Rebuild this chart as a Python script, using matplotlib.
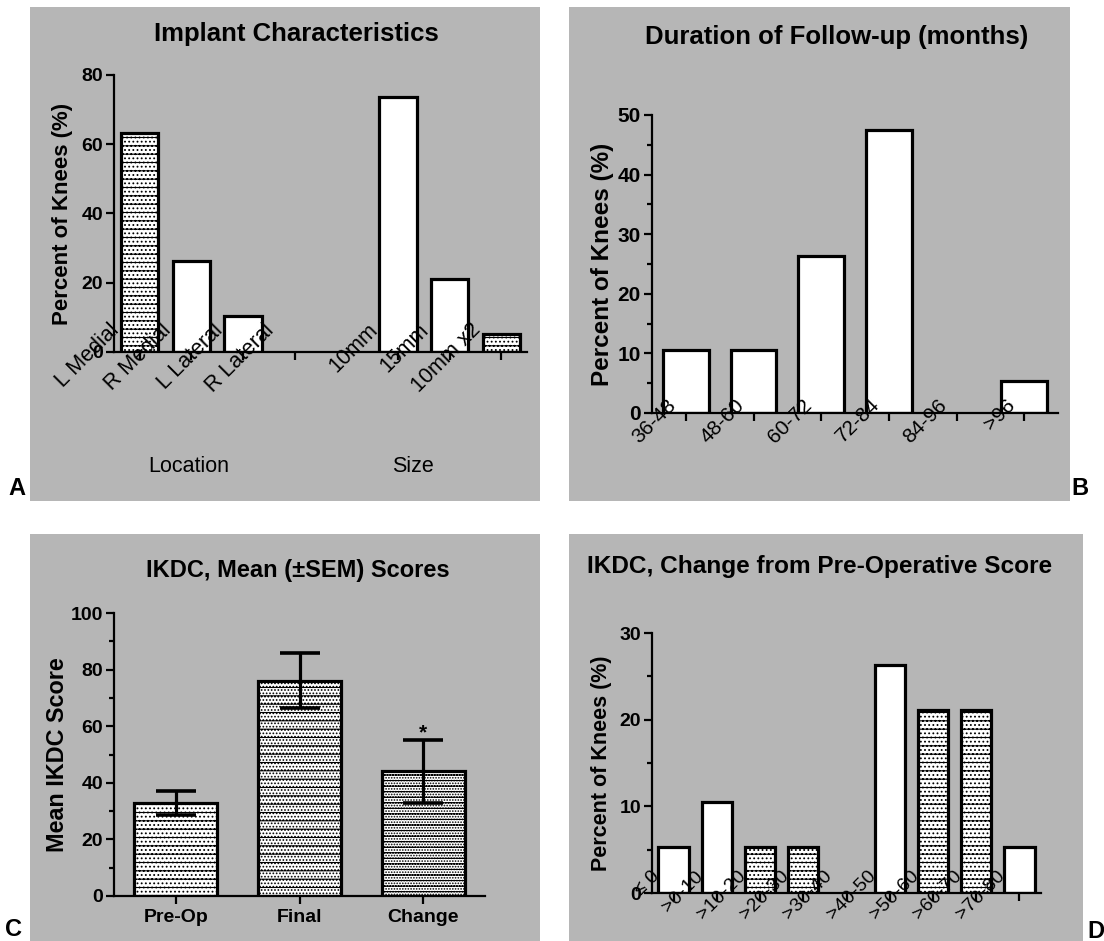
import matplotlib.pyplot as plt
from matplotlib.patches import Rectangle
from matplotlib.transforms import ScaledTranslation
from matplotlib.ticker import MultipleLocator

W, H = 1104, 941
GREY = "#b6b6b6"
plt.rcParams["font.family"] = ["Liberation Sans", "DejaVu Sans"]
plt.rcParams["hatch.linewidth"] = 0.8

# A - implant characteristics (one empty slot between the two groups)
implantLabels = ["L Medial", "R Medial", "L Lateral", "R Lateral", "", "10mm", "15mm", "10mm x2"]
implantPct = [63.2, 26.3, 10.5, 0, 0, 73.7, 21.1, 5.3]

# B - follow-up duration
followLabels = ["36-48", "48-60", "60-72", "72-84", "84-96", ">96"]
followPct = [10.5, 10.5, 26.3, 47.4, 0, 5.3]

# C - IKDC mean scores
ikdcGroups = ["Pre-Op", "Final", "Change"]
ikdcMean = [32.8, 76.1, 44.0]
ikdcSem = [4.3, 9.7, 11.0]

# D - change from pre-op score
changeLabels = ["\u2264 0", ">0-10", ">10-20", ">20-30", ">30-40", ">40-50", ">50-60", ">60-70", ">70-80"]
changePct = [5.3, 10.5, 5.3, 5.3, 0, 26.3, 21.1, 21.1, 5.3]

DOTS = "--...."


def greyPanel(fig, x0, y0, x1, y1):
    fig.add_artist(Rectangle((x0 / W, 1 - y1 / H), (x1 - x0) / W, (y1 - y0) / H,
                             transform=fig.transFigure, facecolor=GREY,
                             edgecolor="none", zorder=-1))


def panelAxes(fig, left, top, right, bottom):
    ax = fig.add_axes([left / W, 1 - bottom / H, (right - left) / W, (bottom - top) / H])
    ax.set_facecolor("none")
    ax.spines["top"].set_visible(False)
    ax.spines["right"].set_visible(False)
    ax.spines["left"].set_linewidth(1.6)
    ax.spines["bottom"].set_linewidth(1.6)
    ax.tick_params(which="major", width=1.6, length=6, color="black")
    ax.tick_params(which="minor", width=1.6, length=3.5, color="black")
    return ax


def boldYticks(ax, size):
    ax.tick_params(axis="y", labelsize=size, pad=2)
    for t in ax.get_yticklabels():
        t.set_fontweight("bold")


def figText(fig, x, y, s, **kw):
    fig.text(x / W, 1 - y / H, s, ha="center", va="center", **kw)


def rotatedLabels(ax, fig, pos, labels, dx, dy, size):
    off = ScaledTranslation(dx / 72, dy / 72, fig.dpi_scale_trans)
    for p, lab in zip(pos, labels):
        ax.text(p, 0, lab, rotation=45, ha="right", va="center", rotation_mode="anchor",
                fontsize=size, transform=ax.get_xaxis_transform() + off, clip_on=False)


def percentBars(ax, values, hatched, width):
    pos = list(range(len(values)))
    for i, v in enumerate(values):
        if v <= 0:
            continue
        ax.bar(i, v, width=width, facecolor="white", edgecolor="black", linewidth=2.3,
               hatch=DOTS if i in hatched else None, zorder=2)
    ax.set_xlim(-0.5, len(values) - 0.5)
    return pos


fig = plt.figure(figsize=(W / 100, H / 100), dpi=100, facecolor="white")

greyPanel(fig, 30, 7, 540, 501)
greyPanel(fig, 569, 7, 1070, 501)
greyPanel(fig, 30, 534, 540, 941)
greyPanel(fig, 569, 534, 1083, 941)

# ---- A
ax = panelAxes(fig, 114, 75, 527, 352)
pos = percentBars(ax, implantPct, [0, 7], 0.72)
ax.set_ylim(0, 80)
ax.set_yticks(range(0, 81, 20))
tickPos = [p for p, lab in zip(pos, implantLabels) if lab]
ax.set_xticks(tickPos, [""] * len(tickPos))
boldYticks(ax, 14)
rotatedLabels(ax, fig, tickPos, [l for l in implantLabels if l], -17, 18, 15.5)
ax.set_ylabel("Percent of Knees (%)", fontsize=16, fontweight="bold", va="center")
ax.yaxis.set_label_coords(-0.124, 0.5)
figText(fig, 296, 34, "Implant Characteristics", fontsize=18.5, fontweight="bold")
figText(fig, 189, 467, "Location", fontsize=15.5)
figText(fig, 413, 467, "Size", fontsize=15.5)

# ---- B
ax = panelAxes(fig, 652, 115, 1058, 413)
pos = percentBars(ax, followPct, [], 0.67)
ax.set_ylim(0, 50)
ax.yaxis.set_major_locator(MultipleLocator(10))
ax.yaxis.set_minor_locator(MultipleLocator(5))
ax.set_xticks(pos, [""] * len(pos))
boldYticks(ax, 15)
rotatedLabels(ax, fig, pos, followLabels, -9, 8, 15)
ax.set_ylabel("Percent of Knees (%)", fontsize=17.5, fontweight="bold", va="center")
ax.yaxis.set_label_coords(-0.122, 0.5)
figText(fig, 837, 37, "Duration of Follow-up (months)", fontsize=18.5, fontweight="bold")

# ---- C
ax = panelAxes(fig, 114, 613, 485, 896)
pos = list(range(len(ikdcGroups)))
ikdcHatch = ["--....", "--.....", "---......"]
for i in pos:
    ax.bar(i, ikdcMean[i], width=0.67, facecolor="white", edgecolor="black",
           linewidth=2.3, hatch=ikdcHatch[i], zorder=2)
ax.errorbar(pos, ikdcMean, yerr=ikdcSem, fmt="none", ecolor="black", elinewidth=2.3,
            capsize=14.5, capthick=2.6, zorder=3)
ax.text(2, 55.8, "*", ha="center", va="baseline", fontsize=15, fontweight="bold")
ax.set_xlim(-0.5, 2.5)
ax.set_ylim(0, 100)
ax.yaxis.set_major_locator(MultipleLocator(20))
ax.yaxis.set_minor_locator(MultipleLocator(10))
ax.set_xticks(pos, ikdcGroups, fontsize=14, fontweight="bold")
ax.tick_params(axis="x", pad=3)
boldYticks(ax, 14)
ax.set_ylabel("Mean IKDC Score", fontsize=16.8, fontweight="bold", va="center")
ax.yaxis.set_label_coords(-0.152, 0.5)
figText(fig, 298, 570, "IKDC, Mean (\u00b1SEM) Scores", fontsize=17, fontweight="bold")

# ---- D
ax = panelAxes(fig, 652, 633, 1041, 893)
pos = percentBars(ax, changePct, [2, 3, 6, 7], 0.70)
ax.set_ylim(0, 30)
ax.yaxis.set_major_locator(MultipleLocator(10))
ax.yaxis.set_minor_locator(MultipleLocator(5))
ax.set_xticks(pos, [""] * len(pos))
boldYticks(ax, 14)
rotatedLabels(ax, fig, pos, changeLabels, -12, 14, 14)
ax.set_ylabel("Percent of Knees (%)", fontsize=15.5, fontweight="bold", va="center")
ax.yaxis.set_label_coords(-0.13, 0.5)
figText(fig, 820, 567, "IKDC, Change from Pre-Operative Score", fontsize=17.6, fontweight="bold")

# panel letters
figText(fig, 17, 488, "A", fontsize=17, fontweight="bold")
figText(fig, 1080, 488, "B", fontsize=17, fontweight="bold")
figText(fig, 14, 930, "C", fontsize=17, fontweight="bold")
figText(fig, 1096, 931, "D", fontsize=17, fontweight="bold")

plt.savefig("out.png", dpi=100, facecolor="white")
plt.close()
